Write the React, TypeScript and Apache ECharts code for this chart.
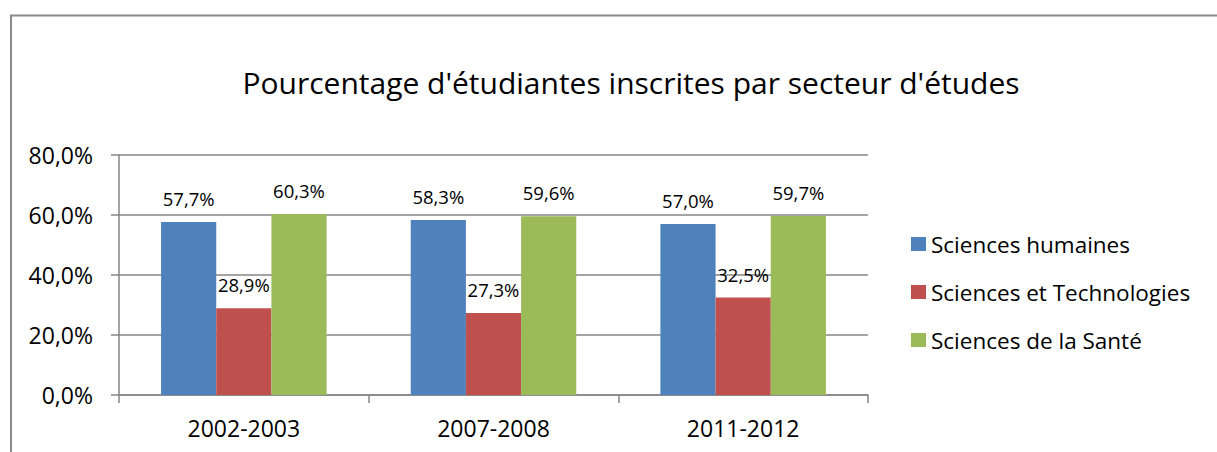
import React, { useEffect, useRef } from "react";
import * as echarts from "echarts";

const title = "Pourcentage d'étudiantes inscrites par secteur d'études";
const categories = ["2002-2003", "2007-2008", "2011-2012"];
const seriesNames = ["Sciences humaines", "Sciences et Technologies", "Sciences de la Santé"];
const humaines = [57.7, 58.3, 57.0];
const technologies = [28.9, 27.3, 32.5];
const sante = [60.3, 59.6, 59.7];
const colors = ["#4F81BD", "#C0504D", "#9BBB59"];
const yTicks = [0, 20, 40, 60, 80];

const FONT = "'Open Sans', 'Noto Sans', sans-serif";
const fmt = (v: number) => v.toFixed(1).replace(".", ",") + "%";

export default function App() {
  const ref = useRef<HTMLDivElement>(null);
  useEffect(() => {
    if (!ref.current) return;
    const chart = echarts.init(ref.current, null, { renderer: "svg" });
    const data = [humaines, technologies, sante];
    chart.setOption({
      animation: false,
      backgroundColor: "#ffffff",
      textStyle: { fontFamily: FONT },
      title: {
        text: title,
        left: 626,
        textAlign: "center",
        top: 62,
        textStyle: { fontFamily: FONT, fontSize: 30, fontWeight: "normal", color: "#000" },
      },
      graphic: [
        {
          type: "rect",
          shape: { x: 11, y: 15.5, width: 1400, height: 600 },
          style: { fill: "none", stroke: "#8a8a8a", lineWidth: 2 },
          silent: true,
        },
      ],
      legend: {
        orient: "vertical",
        left: 911,
        top: 232,
        padding: 0,
        itemWidth: 15,
        itemHeight: 14,
        itemGap: 24,
        icon: "rect",
        data: seriesNames,
        textStyle: { fontFamily: FONT, fontSize: 22.5, color: "#000", lineHeight: 24 },
      },
      grid: { left: 119, right: 349, top: 155, bottom: 57, containLabel: false },
      xAxis: {
        type: "category",
        data: categories,
        axisLine: { lineStyle: { color: "#868686", width: 1.5 } },
        axisTick: { show: true, length: 8, lineStyle: { color: "#868686", width: 1.5 } },
        axisLabel: { fontFamily: FONT, fontSize: 23, color: "#000", margin: 21 },
      },
      yAxis: {
        type: "value",
        min: 0,
        max: 80,
        interval: 20,
        axisLine: { show: true, lineStyle: { color: "#868686", width: 1.5 } },
        axisTick: { show: true, length: 8, lineStyle: { color: "#868686", width: 1.5 } },
        splitLine: { lineStyle: { color: "#868686", width: 1.5 } },
        axisLabel: {
          fontFamily: FONT,
          fontSize: 23,
          color: "#000",
          margin: 26,
          formatter: (v: number) => (yTicks.includes(v) ? fmt(v) : ""),
        },
      },
      series: data.map((d, i) => ({
        name: seriesNames[i],
        type: "bar",
        data: d,
        barGap: "0%",
        barCategoryGap: "33.7%",
        itemStyle: { color: colors[i] },
        label: {
          show: true,
          position: "top",
          distance: 14,
          fontFamily: FONT,
          fontSize: 18.5,
          color: "#000",
          formatter: (p: any) => fmt(p.value),
        },
      })),
    });
    return () => chart.dispose();
  }, []);
  return (
    <div
      ref={ref}
      style={{ position: "fixed", left: 0, top: 0, width: 1217, height: 452 }}
    />
  );
}
